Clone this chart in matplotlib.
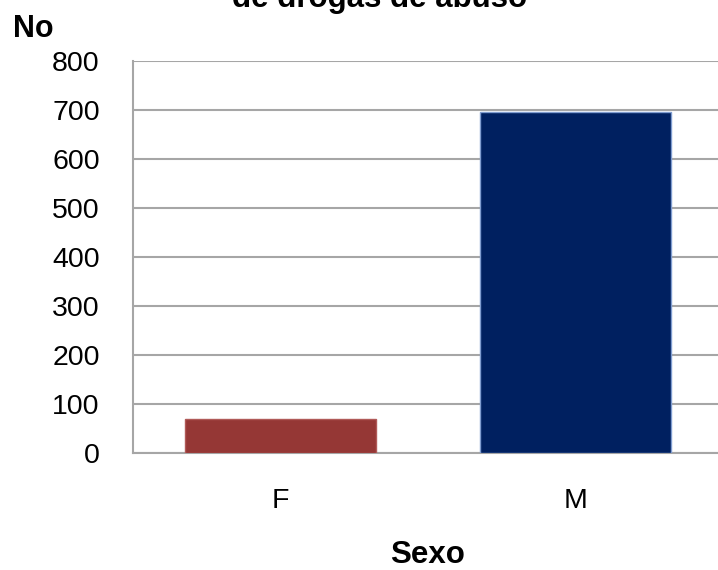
import matplotlib.pyplot as plt

# casos por sexo
categorias = ['F', 'M']
valores = [69, 695]
cores = ['#953735', '#002060']
bordas = ['#B05A58', '#7F9CD0']
yticks = [0, 100, 200, 300, 400, 500, 600, 700, 800]

plt.rcParams['font.family'] = ['Liberation Sans', 'DejaVu Sans']

fig = plt.figure(figsize=(7.18, 5.70), dpi=100)
ax = fig.add_axes([133 / 718, 1 - 453 / 570, 590 / 718, 392 / 570])

x = range(len(categorias))
ax.bar(x, valores, width=0.645, color=cores, edgecolor=bordas, linewidth=1, zorder=3)

ax.set_xlim(-0.5, 1.5)
ax.set_ylim(0, 800)
ax.set_yticks(yticks)
ax.set_xticks(list(x))
ax.set_xticklabels(categorias)
ax.yaxis.grid(True, color='#A6A6A6', linewidth=1.5, zorder=0)
ax.tick_params(axis='both', length=0, labelsize=20.5)
ax.tick_params(axis='y', pad=24)
ax.tick_params(axis='x', pad=25)

for lado in ['top', 'right']:
    ax.spines[lado].set_visible(False)
for lado in ['left', 'bottom']:
    ax.spines[lado].set_color('#A6A6A6')
    ax.spines[lado].set_linewidth(1.5)
ax.spines['left'].set_bounds(0, 800)

fig.text(13 / 718, 1 - 37 / 570, 'No', fontsize=22, fontweight='bold', va='baseline', ha='left')
fig.text(380 / 718, 1 - 7 / 570, 'de drogas de abuso', fontsize=22.5, fontweight='bold',
         va='baseline', ha='center')
fig.text(428 / 718, 1 - 563 / 570, 'Sexo', fontsize=22.5, fontweight='bold', va='baseline', ha='center')

fig.savefig('out.png', dpi=100)
